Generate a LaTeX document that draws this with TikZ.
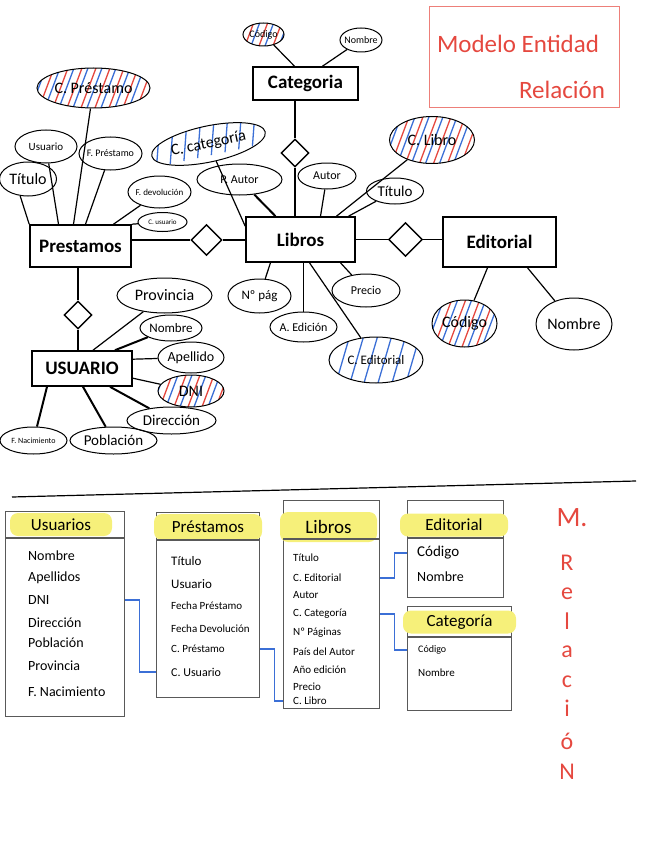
\documentclass[tikz,border=0pt]{standalone}
\usepackage{fontspec}
\setmainfont{Carlito}
\usetikzlibrary{shapes.geometric,positioning}

\definecolor{rotulador}{HTML}{E5483F}
\definecolor{resaltador}{HTML}{F6F07A}
\definecolor{enlace}{HTML}{3B6FD6}
\newcommand{\tam}[1]{\fontsize{#1}{#1}\selectfont}

\tikzset{
  entidad/.style={draw, line width=1.6pt, inner sep=0pt, font=\tam{19}\bfseries},
  atributo/.style 2 args={draw, ellipse, line width=1pt, inner xsep=-8pt, inner ysep=-3pt,
    minimum width=#1, minimum height=#2},
  relacion/.style={draw, diamond, line width=1.4pt, inner sep=0pt, minimum width=#1, minimum height=#1},
  relacion/.default=30pt,
  linea/.style={line width=1.2pt},
  lineagruesa/.style={line width=2pt},
  clave/.style={path picture={
    \foreach \k in {0,14,...,170}{
      \draw[rotulador, line width=1.3pt] ([xshift={(\k-40)*1pt}]path picture bounding box.south west) -- ++(18pt,48pt);
      \draw[enlace, line width=1.3pt] ([xshift={(\k-34)*1pt}]path picture bounding box.south west) -- ++(18pt,48pt);
    }}},
  claveazul/.style={path picture={
    \foreach \k in {0,14,...,170}{
      \draw[enlace, line width=1.3pt] ([xshift={(\k-35)*1pt}]path picture bounding box.south west) -- ++(14pt,48pt);
    }}},
  borde/.style={draw=black!65, line width=1.3pt},
  tabla/.style={borde, anchor=north west, inner sep=0pt},
  cabecera/.style={fill=resaltador, rounded corners=8pt, inner sep=0pt, minimum height=23pt, font=\tam{17}},
  campo/.style={anchor=west, inner sep=0pt},
  fk/.style={draw=enlace, line width=1.4pt},
  rojo/.style={text=rotulador, inner sep=0pt},
}

\begin{document}
\begin{tikzpicture}[x=1pt, y=-1pt]
  \useasboundingbox (0,0) rectangle (646,848);

  % titulo
  \node[draw=rotulador!70, line width=1pt, anchor=north west, minimum width=190pt, minimum height=101pt] (titulo) at (429,6) {};
  \node[rojo, font=\tam{25}] (tit1) at (518,44) {Modelo Entidad};
  \node[rojo, font=\tam{25}] (tit2) at (562,90) {Relación};

  % entidades
  \node[entidad, minimum width=105pt, minimum height=33pt] (categoria) at (305.5,83.5) {Categoria};
  \node[entidad, minimum width=109pt, minimum height=45pt] (libros) at (300.5,239.5) {Libros};
  \node[entidad, minimum width=101pt, minimum height=42pt] (prestamos) at (80.5,246) {Prestamos};
  \node[entidad, minimum width=113pt, minimum height=50pt] (editorial) at (499.5,242) {Editorial};
  \node[entidad, minimum width=100pt, minimum height=35pt] (usuario) at (82,368.5) {USUARIO};

  % relaciones
  \node[relacion=28pt] (relCat) at (295,153) {};
  \node[relacion=31pt] (relPres) at (206.5,240) {};
  \node[relacion=34pt] (relEdi) at (405.5,239.5) {};
  \node[relacion=28pt] (relUsu) at (78,315) {};
  \draw[linea] (categoria.south -| relCat) -- (relCat) -- (libros.north -| relCat);
  \draw[linea] (prestamos.east |- relPres) -- (relPres) -- (libros.west |- relPres);
  \draw[linea] (libros.east |- relEdi) -- (relEdi) -- (editorial.west |- relEdi);
  \draw[linea] (prestamos.south -| relUsu) -- (relUsu) -- (usuario.north -| relUsu);

  % atributos de Categoria
  \node[atributo={41pt}{23pt}, clave, font=\tam{10}] (catCodigo) at (263.5,34.5) {Código};
  \node[atributo={42pt}{24pt}, font=\tam{10}] (catNombre) at (361,40) {Nombre};
  \draw[linea] ([xshift=-11pt]categoria.north) -- (catCodigo);
  \draw[linea] ([xshift=17pt]categoria.north) -- (catNombre);

  % atributos de Prestamos
  \node[atributo={113pt}{40pt}, clave, font=\tam{16}] (pCPres) at (93.5,88) {C. Préstamo};
  \node[atributo={62pt}{33pt}, font=\tam{11}] (pUsuario) at (46,146.5) {Usuario};
  \node[atributo={63pt}{33pt}, font=\tam{10}] (pFPres) at (110.5,153.5) {F. Préstamo};
  \node[atributo={57pt}{34pt}, font=\tam{16}] (pTitulo) at (28,179) {Título};
  \node[atributo={63pt}{32pt}, font=\tam{9}] (pFDev) at (159.5,192) {F. devolución};
  \node[atributo={49pt}{19pt}, font=\tam{7}] (pCUsu) at (162.5,222) {C. usuario};
  \draw[linea] ([xshift=-7pt]prestamos.north) -- (pCPres);
  \draw[linea] ([xshift=-22pt]prestamos.north) -- (pUsuario);
  \draw[linea] ([xshift=5pt]prestamos.north) -- (pFPres);
  \draw[linea] (prestamos.north west) -- (pTitulo.-115);
  \draw[linea] ([xshift=33pt]prestamos.north) -- (pFDev);
  \draw[linea] (prestamos.north east) -- (pCUsu);

  % atributos de Libros
  \node[atributo={116pt}{36pt}, claveazul, rotate=12, font=\tam{16}] (lCCat) at (208.5,144) {C. categoría};
  \node[atributo={85pt}{31pt}, font=\tam{12}] (lPAutor) at (239.5,179.5) {P. Autor};
  \node[atributo={58pt}{26pt}, font=\tam{12}] (lAutor) at (327,176) {Autor};
  \node[atributo={85pt}{47pt}, clave, font=\tam{16}] (lCLibro) at (432,140) {C. Libro};
  \node[atributo={57pt}{26pt}, font=\tam{15}] (lTitulo) at (395,191) {Título};
  \node[atributo={63pt}{34pt}, font=\tam{13}] (lNPag) at (259.5,296) {Nº pág};
  \node[atributo={67pt}{30pt}, font=\tam{12}] (lAEd) at (303.5,327) {A. Edición};
  \node[atributo={68pt}{33pt}, font=\tam{12}] (lPrecio) at (366,290.5) {Precio};
  \node[atributo={94pt}{46pt}, claveazul, font=\tam{13}] (lCEdi) at (376,360) {C. Editorial};
  \draw[linea] ([yshift=-10pt]libros.north west) -- (lCCat);
  \draw[lineagruesa] ([xshift=-25pt]libros.north) -- (lPAutor);
  \draw[linea] ([xshift=20pt]libros.north) -- (lAutor);
  \draw[linea] ([xshift=36pt]libros.north) -- (lCLibro);
  \draw[linea] ([xshift=48pt]libros.north) -- (lTitulo);
  \draw[linea] ([xshift=-30pt]libros.south) -- (lNPag);
  \draw[linea] ([xshift=3pt]libros.south) -- (lAEd);
  \draw[linea] ([xshift=40pt]libros.south) -- (lPrecio);
  \draw[linea] ([xshift=9pt]libros.south) -- (lCEdi);

  % atributos de Editorial
  \node[atributo={65pt}{47pt}, clave, font=\tam{16}] (eCodigo) at (464.5,323.5) {Código};
  \node[atributo={76pt}{52pt}, font=\tam{16}] (eNombre) at (574,324) {Nombre};
  \draw[linea] ([xshift=-12pt]editorial.south) -- (eCodigo);
  \draw[linea] ([xshift=28pt]editorial.south) -- (eNombre);

  % atributos de Usuario
  \node[atributo={95pt}{35pt}, font=\tam{16}] (uProv) at (164.5,295.5) {Provincia};
  \node[atributo={62pt}{26pt}, font=\tam{13}] (uNombre) at (171,328) {Nombre};
  \node[atributo={66pt}{31pt}, font=\tam{14}] (uApe) at (191,357.5) {Apellido};
  \node[atributo={66pt}{32pt}, clave, font=\tam{16}] (uDNI) at (191,391) {DNI};
  \node[atributo={89pt}{27pt}, font=\tam{15}] (uDir) at (171.5,420.5) {Dirección};
  \node[atributo={67pt}{27pt}, font=\tam{8}] (uFNac) at (33.5,440.5) {F. Nacimiento};
  \node[atributo={87pt}{27pt}, font=\tam{15}] (uPob) at (113.5,440.5) {Población};
  \draw[linea] ([xshift=11pt]usuario.north) -- (uProv);
  \draw[lineagruesa] ([xshift=33pt]usuario.north) -- (uNombre);
  \draw[linea] ([yshift=-9pt]usuario.north east) -- (uApe);
  \draw[linea] ([yshift=-28pt]usuario.north east) -- (uDNI);
  \draw[lineagruesa] ([xshift=28pt]usuario.south) -- (uDir);
  \draw[lineagruesa] ([xshift=-35pt]usuario.south) -- (uFNac);
  \draw[lineagruesa] ([xshift=1pt]usuario.south) -- (uPob);

  % separacion
  \coordinate (sepIzq) at (12,497);
  \coordinate (sepDer) at (636,481);
  \draw[linea] (sepIzq) -- (sepDer);

  % modelo relacional: tablas
  \node[tabla, minimum width=119pt, minimum height=205pt] (tUsu) at (5,511) {};
  \node[tabla, minimum width=103pt, minimum height=185pt] (tPre) at (156,512) {};
  \node[tabla, minimum width=96pt, minimum height=208pt] (tLib) at (283,500) {};
  \node[tabla, minimum width=96pt, minimum height=97pt] (tEdi) at (407,500) {};
  \node[tabla, minimum width=104pt, minimum height=104pt] (tCat) at (407,606) {};

  \node[cabecera, minimum width=102pt] (hUsu) at (61,524.5) {Usuarios};
  \node[cabecera, minimum width=108pt, minimum height=26pt] (hPre) at (208,527) {Préstamos};
  \node[cabecera, minimum width=97pt, minimum height=30pt, font=\tam{19}] (hLib) at (328.5,527) {Libros};
  \node[cabecera, minimum width=108pt] (hEdi) at (454,525) {Editorial};
  \node[cabecera, minimum width=113pt] (hCat) at (459.5,622) {Categoría};

  \draw[borde] ([yshift=-27pt]tUsu.north west) -- ([yshift=-27pt]tUsu.north east);
  \draw[borde] ([yshift=-28pt]tPre.north west) -- ([yshift=-28pt]tPre.north east);
  \draw[borde] ([yshift=-39pt]tLib.north west) -- ([yshift=-39pt]tLib.north east);
  \draw[borde] ([yshift=-38pt]tEdi.north west) -- ([yshift=-38pt]tEdi.north east);
  \draw[borde] ([yshift=-31pt]tCat.north west) -- ([yshift=-31pt]tCat.north east);

  % campos
  \foreach \n/\t/\y in {fUsuNom/Nombre/556, fUsuApe/Apellidos/578, fUsuDNI/DNI/600,
      fUsuDir/Dirección/623, fUsuPob/Población/643, fUsuProv/Provincia/666, fUsuFNac/F. Nacimiento/692}
    \node[campo, font=\tam{14}] (\n) at (28,\y) {\t};
  \foreach \n/\t/\y/\f in {fPreTit/Título/561/13, fPreUsu/Usuario/584/13, fPreFP/Fecha Préstamo/606/11,
      fPreFD/Fecha Devolución/629/11, fPreCP/C. Préstamo/649/11, fPreCU/C. Usuario/672/12}
    \node[campo, font=\tam{\f}] (\n) at (171,\y) {\t};
  \foreach \n/\t/\y in {fLibTit/Título/558, fLibCE/C. Editorial/578, fLibAut/Autor/595,
      fLibCC/C. Categoría/614, fLibNP/Nº Páginas/633, fLibPais/País del Autor/652,
      fLibAno/Año edición/670, fLibPre/Precio/687, fLibCL/C. Libro/701}
    \node[campo, font=\tam{11}] (\n) at (293,\y) {\t};
  \node[campo, font=\tam{15}] (fEdiCod) at (417,553) {Código};
  \node[campo, font=\tam{14}] (fEdiNom) at (417,577) {Nombre};
  \node[campo, font=\tam{10}] (fCatCod) at (418,650) {Código};
  \node[campo, font=\tam{11}] (fCatNom) at (418,673) {Nombre};

  % claves ajenas
  \draw[fk] (tUsu.east |- fUsuDNI) -- ++(14,0) |- (tPre.west |- fPreCU);
  \draw[fk] (tPre.east |- fPreCP) -- ++(14,0) |- (tLib.west |- fLibCL);
  \draw[fk] (tLib.east |- fLibCE) -- ++(14,0) |- (tEdi.west |- fEdiCod);
  \draw[fk] (tLib.east |- fLibCC) -- ++(14,0) |- (tCat.west |- fCatCod);

  % M. Relacion
  \node[rojo, font=\tam{28}] (mRel) at (572,518) {M.};
  \foreach \l/\y in {R/563, e/594, l/621, a/652, c/682, i/708, ó/741, N/772}
    \node[rojo, font=\tam{24}] at (567,\y) {\l};
\end{tikzpicture}
\end{document}
